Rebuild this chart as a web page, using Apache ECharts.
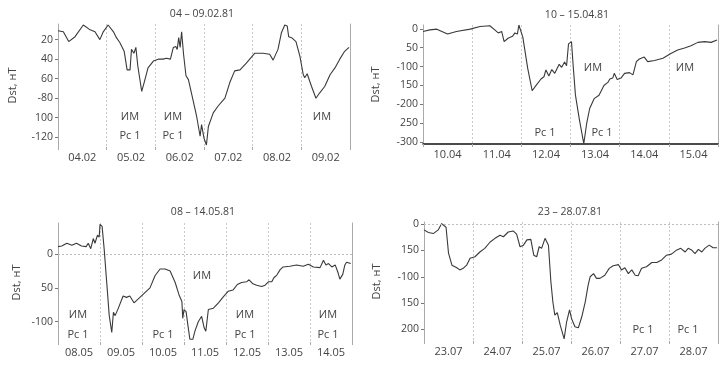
<!DOCTYPE html>
<html><head><meta charset="utf-8">
<script src="https://cdn.jsdelivr.net/npm/echarts@6/dist/echarts.min.js"></script>
<style>html,body{margin:0;padding:0;background:#fff}#c{width:725px;height:374px}</style>
</head><body><div id="c"></div>
<script>
// ---------- panel 1 : 04 – 09.02.81 ----------
const p1Title = '04 – 09.02.81';
const p1Days = ['04.02','05.02','06.02','07.02','08.02','09.02'];
const p1TickVals = [-20,-40,-60,-80,-100,-120];
const p1TickText = ['20','40','60','-80','100','-120'];
const p1Time = [0,0.11,0.22,0.35,0.52,0.66,0.76,0.86,0.93,1.03,
 1.14,1.2,1.27,1.36,1.42,1.48,1.51,1.56,1.6,1.64,
 1.72,1.77,1.85,1.96,2.06,2.16,2.23,2.31,2.37,2.42,
 2.45,2.48,2.51,2.54,2.58,2.63,2.68,2.77,2.85,2.92,
 2.95,3.0,3.05,3.09,3.12,3.19,3.29,3.43,3.53,3.63,
 3.74,3.87,4.04,4.21,4.35,4.42,4.52,4.59,4.66,4.71,
 4.74,4.8,4.89,4.97,5.04,5.07,5.12,5.21,5.3,5.37,
 5.48,5.59,5.69,5.79,5.89,5.98];
const p1Dst = [-11,-12,-22,-17,-5,-10,-12,-20,-12,-5,
 -12,-18,-23,-32,-51,-51,-30,-34,-28,-47,
 -73,-64,-49,-42,-40,-40,-39,-40,-28,-27,
 -30,-18,-28,-12,-35,-57,-61,-81,-99,-119,
 -107,-121,-128,-109,-107,-95,-88,-80,-64,-52,
 -51,-44,-34,-34,-35,-41,-30,-13,-5,-6,
 -17,-18,-22,-37,-56,-59,-55,-68,-80,-75,
 -68,-56,-49,-40,-32,-28];

// ---------- panel 2 : 10 – 15.04.81 ----------
const p2Title = '10 – 15.04.81';
const p2Days = ['10.04','11.04','12.04','13.04','14.04','15.04'];
const p2TickVals = [0,-50,-100,-150,-200,-250,-300];
const p2TickText = ['0','50','-100','150','-200','250','-300'];
const p2Time = [0,0.14,0.28,0.5,0.68,0.96,1.16,1.36,1.46,1.53,
 1.6,1.65,1.73,1.82,1.87,1.92,1.95,2.03,2.13,2.22,
 2.3,2.4,2.46,2.5,2.56,2.62,2.68,2.77,2.82,2.88,
 2.92,2.96,3.02,3.05,3.1,3.18,3.27,3.33,3.39,3.48,
 3.58,3.68,3.76,3.8,3.86,3.89,3.95,4.03,4.1,4.2,
 4.27,4.34,4.4,4.5,4.57,4.71,4.88,5.05,5.18,5.32,
 5.45,5.59,5.73,5.86,5.98];
const p2Dst = [-7,-3,-1,-14,-7,-1,6,8,-3,-11,
 -7,-34,-25,-20,-11,-14,10,-22,-105,-164,
 -150,-133,-127,-109,-125,-108,-118,-94,-102,-88,
 -98,-40,-34,-90,-175,-240,-304,-250,-211,-185,
 -176,-150,-142,-133,-130,-118,-134,-130,-118,-116,
 -122,-87,-80,-75,-87,-84,-78,-65,-56,-51,
 -45,-36,-34,-36,-30];

// ---------- panel 3 : 08 – 14.05.81 ----------
const p3Title = '08 – 14.05.81';
const p3Days = ['08.05','09.05','10.05','11.05','12.05','13.05','14.05'];
const p3TickVals = [0,-50,-100];
const p3TickText = ['0','50','-100'];
const p3Time = [0,0.09,0.21,0.33,0.44,0.56,0.67,0.72,0.78,0.84,
 0.88,0.94,0.98,1.0,1.05,1.1,1.16,1.22,1.28,1.32,
 1.36,1.43,1.55,1.63,1.71,1.81,1.95,2.07,2.19,2.31,
 2.43,2.55,2.67,2.79,2.88,2.95,2.97,3.0,3.05,3.09,
 3.14,3.21,3.26,3.34,3.42,3.48,3.52,3.58,3.7,3.82,
 3.94,4.05,4.17,4.27,4.37,4.49,4.55,4.64,4.73,4.85,
 4.93,5.01,5.09,5.14,5.21,5.29,5.36,5.52,5.68,5.84,
 5.96,6.08,6.24,6.32,6.38,6.44,6.52,6.6,6.67,6.71,
 6.78,6.83,6.87,6.97];
const p3Dst = [11,12,16,13,16,12,11,16,8,23,
 16,28,25,44,41,7,-42,-91,-116,-86,
 -91,-81,-62,-64,-62,-72,-64,-57,-50,-32,
 -22,-22,-25,-42,-60,-70,-95,-82,-85,-104,
 -126,-126,-114,-100,-92,-109,-114,-82,-80,-72,
 -63,-55,-53,-45,-42,-41,-38,-44,-46,-48,
 -46,-41,-41,-35,-31,-23,-19,-18,-16,-18,
 -15,-19,-20,-9,-16,-14,-19,-16,-28,-37,
 -30,-16,-12,-14];

// ---------- panel 4 : 23 – 28.07.81 ----------
const p4Title = '23 – 28.07.81';
const p4Days = ['23.07','24.07','25.07','26.07','27.07','28.07'];
const p4TickVals = [0,-50,-100,-150,-200];
const p4TickText = ['0','150','-100','150','200'];
const p4Time = [0,0.09,0.19,0.29,0.36,0.39,0.45,0.5,0.57,0.67,
 0.73,0.8,0.87,0.94,1.04,1.14,1.24,1.35,1.45,1.55,
 1.62,1.72,1.82,1.89,1.96,2.03,2.1,2.18,2.24,2.3,
 2.35,2.4,2.47,2.54,2.59,2.63,2.67,2.72,2.78,2.86,
 2.91,2.97,3.01,3.08,3.15,3.22,3.29,3.35,3.39,3.46,
 3.52,3.59,3.69,3.78,3.86,3.97,4.03,4.1,4.17,4.24,
 4.31,4.37,4.44,4.54,4.65,4.75,4.85,4.95,5.05,5.16,
 5.24,5.33,5.39,5.46,5.53,5.6,5.67,5.73,5.82,5.9,
 5.98];
const p4Dst = [-11,-16,-18,-11,1,3,-6,-55,-78,-83,
 -87,-84,-78,-65,-62,-53,-46,-34,-27,-21,
 -24,-15,-13,-19,-43,-40,-30,-29,-59,-62,
 -43,-46,-27,-40,-110,-148,-173,-168,-192,-218,
 -186,-163,-179,-195,-197,-176,-148,-116,-100,-94,
 -103,-103,-97,-84,-79,-77,-87,-83,-94,-87,
 -97,-98,-84,-81,-73,-73,-68,-59,-57,-49,
 -46,-53,-46,-49,-56,-48,-53,-46,-40,-45,
 -45];

const yName = 'Dst, нТ';
const FONT = '"Open Sans", "DejaVu Sans", sans-serif';
const TXT = '#444';

const panels = [
  {title:p1Title, days:p1Days, tv:p1TickVals, tt:p1TickText, t:p1Time, v:p1Dst,
   grid:{left:58, top:24, width:292, height:123}, min:-130, max:-4, nameGap:40,
   bottomLine:false, zero:false, titlePos:[202,14]},
  {title:p2Title, days:p2Days, tv:p2TickVals, tt:p2TickText, t:p2Time, v:p2Dst,
   grid:{left:423, top:25, width:295, height:119}, min:-305, max:10, nameGap:42,
   bottomLine:true, zero:false, titlePos:[577,15]},
  {title:p3Title, days:p3Days, tv:p3TickVals, tt:p3TickText, t:p3Time, v:p3Dst,
   grid:{left:58, top:223, width:294, height:119}, min:-130, max:46, nameGap:36,
   bottomLine:false, zero:true, titlePos:[203,212]},
  {title:p4Title, days:p4Days, tv:p4TickVals, tt:p4TickText, t:p4Time, v:p4Dst,
   grid:{left:424, top:222, width:294, height:119}, min:-222, max:4, nameGap:42,
   bottomLine:false, zero:true, titlePos:[570,212]}
];

// text annotations (ИМ / Pc 1)
const notes = [
  ['ИМ',130,117],['ИМ',173,117],['ИМ',322,117],['Pc 1',130,136],['Pc 1',173,136],
  ['ИМ',593,68],['ИМ',685,68],['Pc 1',545,133],['Pc 1',602,133],
  ['ИМ',202,276],['ИМ',78,315],['ИМ',245,315],['ИМ',328,315],
  ['Pc 1',78,335],['Pc 1',163,335],['Pc 1',245,335],['Pc 1',328,335],
  ['Pc 1',643,330],['Pc 1',688,330]
];

const grid=[], xAxis=[], yAxis=[], series=[], graphic=[];
panels.forEach((p,i)=>{
  grid.push(p.grid);
  const n = p.days.length;
  xAxis.push({
    type:'value', gridIndex:i, min:0, max:n, interval:1,
    axisLine:{show:p.bottomLine, onZero:false, lineStyle:{color:'#111', width:1.5}},
    axisTick:{show:true, length:3, lineStyle:{color:'#aaa'}},
    axisLabel:{customValues:p.days.map((d,k)=>k+0.5), margin:5,
      formatter:(val)=>p.days[Math.floor(val)], color:TXT, fontSize:11, fontFamily:FONT},
    splitLine:{show:true, lineStyle:{color:'#c9c9c9', type:[2,2], width:1}}
  });
  yAxis.push({
    type:'value', gridIndex:i, min:p.min, max:p.max, position:'left',
    name:yName, nameLocation:'middle', nameRotate:90, nameGap:p.nameGap,
    nameTextStyle:{color:TXT, fontSize:11, fontFamily:FONT},
    axisLine:{show:true, onZero:false, lineStyle:{color:'#aaa', width:1}},
    axisTick:{show:true, customValues:p.tv, length:3, lineStyle:{color:'#777'}},
    axisLabel:{customValues:p.tv, margin:5, color:TXT, fontSize:10.5, fontFamily:FONT,
      formatter:(val)=>{const k=p.tv.indexOf(val); return k>=0?p.tt[k]:'';}},
    splitLine:{show:false}
  });
  yAxis.push({
    type:'value', gridIndex:i, min:p.min, max:p.max, position:'right',
    axisLine:{show:true, onZero:false, lineStyle:{color:'#aaa', width:1}},
    axisTick:{show:false}, axisLabel:{show:false}, splitLine:{show:false}
  });
  const s = {
    type:'line', xAxisIndex:i, yAxisIndex:i*2, showSymbol:false, silent:true,
    data:p.t.map((t,k)=>[t,p.v[k]]),
    lineStyle:{color:'#3a3a3a', width:1.1}, animation:false
  };
  if (p.zero) {
    s.markLine = {silent:true, symbol:'none', label:{show:false},
      lineStyle:{color:'#bdbdbd', type:[2,2], width:1}, data:[{yAxis:0}], animation:false};
  }
  series.push(s);
  graphic.push({type:'text', x:p.titlePos[0], y:p.titlePos[1],
    style:{text:p.title, align:'center', verticalAlign:'middle', fill:TXT, fontSize:10.5, fontFamily:FONT}});
});
notes.forEach(([txt,x,y])=>{
  graphic.push({type:'text', x:x, y:y,
    style:{text:txt, align:'center', verticalAlign:'middle', fill:TXT, fontSize:11, fontFamily:FONT}});
});

const chart = echarts.init(document.getElementById('c'), null, {renderer:'canvas'});
chart.setOption({animation:false, backgroundColor:'#fff', grid, xAxis, yAxis, series, graphic});
</script>
</body></html>
